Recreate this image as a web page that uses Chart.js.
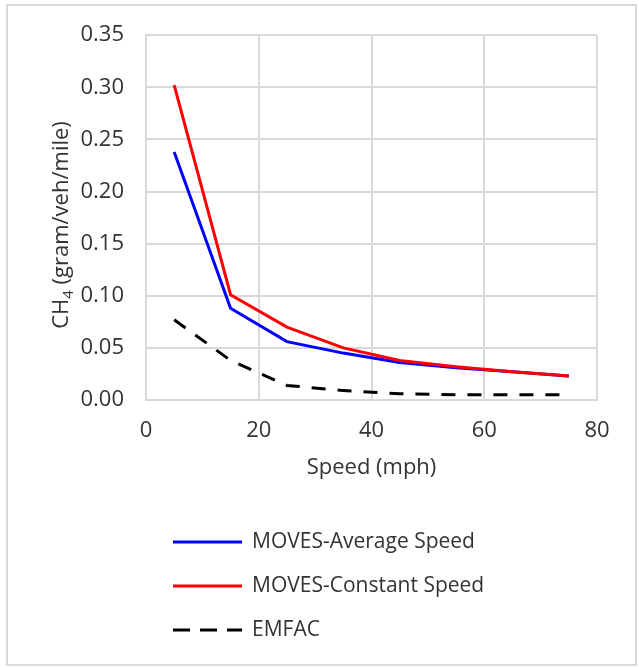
<!DOCTYPE html>
<html>
<head>
<meta charset="utf-8">
<script src="https://cdn.jsdelivr.net/npm/chart.js@4"></script>
<style>
    html, body { margin: 0; padding: 0; background: #fff; }
    #wrap { width: 639px; height: 667px; position: relative; }
</style>
</head>
<body>
<div id="wrap"><canvas id="ch4Chart"></canvas></div>
<script>
const speeds = [5, 15, 25, 35, 45, 55, 65, 75];
const movesAverage = [0.238, 0.088, 0.056, 0.045, 0.036, 0.031, 0.027, 0.023];
const movesConstant = [0.302, 0.101, 0.070, 0.050, 0.038, 0.032, 0.027, 0.023];
const emfac = [0.077, 0.038, 0.014, 0.009, 0.006, 0.005, 0.005, 0.005];
const seriesNames = ['MOVES-Average Speed', 'MOVES-Constant Speed', 'EMFAC'];
const xTicks = [0, 20, 40, 60, 80];
const yTicks = [0, 0.05, 0.10, 0.15, 0.20, 0.25, 0.30, 0.35];

const FONT = '"Open Sans", sans-serif';
const TEXT = '#333333';
const GRID = '#d9d9d9';

function toPoints(values) {
    return values.map((v, i) => ({ x: speeds[i], y: v }));
}

// frame around the picture
const framePlugin = {
    id: 'frame',
    beforeDraw(chart) {
        const c = chart.ctx;
        c.save();
        c.fillStyle = '#fff';
        c.fillRect(0, 0, chart.width, chart.height);
        c.strokeStyle = GRID;
        c.lineWidth = 2;
        c.strokeRect(7, 5, 629, 660);
        c.restore();
    }
};

// y title with subscript, plus stacked legend
const extrasPlugin = {
    id: 'extras',
    afterDraw(chart) {
        const c = chart.ctx;
        c.save();

        // y axis title
        const big = '22px ' + FONT;
        const small = '15px ' + FONT;
        c.font = big;
        const wCH = c.measureText('CH').width;
        const wRest = c.measureText(' (gram/veh/mile)').width;
        c.font = small;
        const w4 = c.measureText('4').width;
        const total = wCH + w4 + wRest;
        c.translate(62, 225);
        c.rotate(-Math.PI / 2);
        c.fillStyle = TEXT;
        c.textBaseline = 'middle';
        c.textAlign = 'left';
        let x = -total / 2;
        c.font = big;
        c.fillText('CH', x, 0);
        x += wCH;
        c.font = small;
        c.fillText('4', x, 7);
        x += w4;
        c.font = big;
        c.fillText(' (gram/veh/mile)', x, 0);
        c.setTransform(1, 0, 0, 1, 0, 0);

        // legend
        const rows = [542, 586, 630];
        chart.data.datasets.forEach((ds, i) => {
            const y = rows[i];
            c.beginPath();
            c.strokeStyle = ds.borderColor;
            c.lineWidth = 3;
            c.setLineDash(ds.borderDash ? [17, 10] : []);
            c.moveTo(173, y);
            c.lineTo(242, y);
            c.stroke();
            c.setLineDash([]);
            c.font = '21px ' + FONT;
            c.fillStyle = TEXT;
            c.textBaseline = 'middle';
            c.fillText(ds.label, 252, y);
        });
        c.restore();
    }
};

new Chart(document.getElementById('ch4Chart'), {
    type: 'line',
    data: {
        datasets: [
            {
                label: seriesNames[0],
                data: toPoints(movesAverage),
                borderColor: '#0000ff',
                borderWidth: 3,
                pointRadius: 0,
                tension: 0,
                order: 1
            },
            {
                label: seriesNames[1],
                data: toPoints(movesConstant),
                borderColor: '#ff0000',
                borderWidth: 3,
                pointRadius: 0,
                tension: 0,
                order: 0
            },
            {
                label: seriesNames[2],
                data: toPoints(emfac),
                borderColor: '#000000',
                borderWidth: 3,
                borderDash: [14, 12],
                pointRadius: 0,
                tension: 0,
                order: 2
            }
        ]
    },
    options: {
        responsive: true,
        maintainAspectRatio: false,
        animation: false,
        layout: {
            padding: { left: 0, top: 35, right: 42, bottom: 182 }
        },
        scales: {
            x: {
                type: 'linear',
                min: xTicks[0],
                max: xTicks[xTicks.length - 1],
                afterBuildTicks: (scale) => {
                    scale.ticks = xTicks.map(v => ({ value: v }));
                },
                afterFit: (scale) => { scale.height = 85; },
                grid: { color: GRID, lineWidth: 2, drawTicks: false },
                border: { color: GRID, width: 2 },
                ticks: {
                    color: TEXT,
                    font: { family: FONT, size: 22 },
                    padding: 18,
                    maxRotation: 0
                },
                title: {
                    display: true,
                    text: 'Speed (mph)',
                    color: TEXT,
                    font: { family: FONT, size: 22 },
                    padding: { top: 6, bottom: 4 }
                }
            },
            y: {
                min: yTicks[0],
                max: yTicks[yTicks.length - 1],
                afterBuildTicks: (scale) => {
                    scale.ticks = yTicks.map(v => ({ value: v }));
                },
                afterFit: (scale) => { scale.width = 146; },
                grid: { color: GRID, lineWidth: 2, drawTicks: false },
                border: { color: GRID, width: 2 },
                ticks: {
                    color: TEXT,
                    font: { family: FONT, size: 22 },
                    padding: 22,
                    callback: (val) => Number(val).toFixed(2)
                }
            }
        },
        plugins: {
            legend: { display: false },
            tooltip: { enabled: false }
        }
    },
    plugins: [framePlugin, extrasPlugin]
});
</script>
</body>
</html>
